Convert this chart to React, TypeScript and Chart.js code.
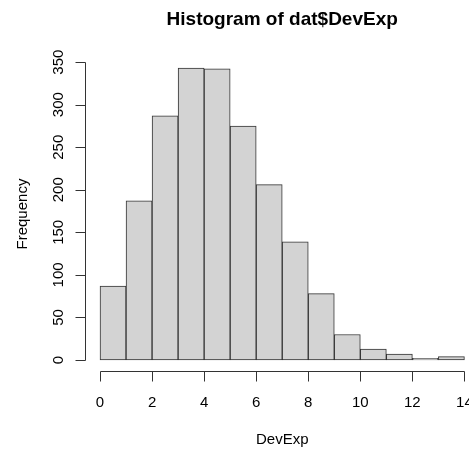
import React, { useEffect, useRef } from "react";
import { Chart, registerables } from "chart.js";

Chart.register(...registerables);

// ---- data ----
const binStarts = [0, 1, 2, 3, 4, 5, 6, 7, 8, 9, 10, 11, 12, 13];
const counts = [87, 187, 287, 343, 342, 275, 206, 139, 78, 30, 13, 7, 2, 4];
const xTicks = [0, 2, 4, 6, 8, 10, 12, 14];
const yTicks = [0, 50, 100, 150, 200, 250, 300, 350];
const titleText = "Histogram of dat$DevExp";
const xLabel = "DevExp";
const yLabel = "Frequency";

const FONT = "'Liberation Sans', Arial, Helvetica, sans-serif";

const rAxesPlugin = {
  id: "rAxes",
  afterDraw(chart: any) {
    const { ctx, chartArea, scales } = chart;
    const xs = scales.x;
    const ys = scales.y;
    ctx.save();
    ctx.strokeStyle = "#333";
    ctx.fillStyle = "#000";
    ctx.lineWidth = 1;

    // y axis
    const ax = Math.round(chartArea.left) + 0.5;
    const y0 = ys.getPixelForValue(yTicks[0]);
    const y1 = ys.getPixelForValue(yTicks[yTicks.length - 1]);
    ctx.beginPath();
    ctx.moveTo(ax, Math.round(y0) + 0.5);
    ctx.lineTo(ax, Math.round(y1) + 0.5);
    yTicks.forEach((v) => {
      const py = Math.round(ys.getPixelForValue(v)) + 0.5;
      ctx.moveTo(ax, py);
      ctx.lineTo(ax - 10, py);
    });
    ctx.stroke();
    ctx.font = `15px ${FONT}`;
    ctx.textAlign = "center";
    ctx.textBaseline = "alphabetic";
    yTicks.forEach((v) => {
      const py = ys.getPixelForValue(v);
      ctx.save();
      ctx.translate(63, py);
      ctx.rotate(-Math.PI / 2);
      ctx.fillText(String(v), 0, 0);
      ctx.restore();
    });

    // x axis
    const ay = Math.round(chartArea.bottom) - 0.5;
    const x0 = xs.getPixelForValue(xTicks[0]);
    const x1 = xs.getPixelForValue(xTicks[xTicks.length - 1]);
    ctx.beginPath();
    ctx.moveTo(Math.round(x0) + 0.5, ay);
    ctx.lineTo(Math.round(x1) + 0.5, ay);
    xTicks.forEach((v) => {
      const px = Math.round(xs.getPixelForValue(v)) + 0.5;
      ctx.moveTo(px, ay);
      ctx.lineTo(px, ay + 10);
    });
    ctx.stroke();
    xTicks.forEach((v) => {
      ctx.fillText(String(v), xs.getPixelForValue(v), 407);
    });

    const cx = (chartArea.left + chartArea.right) / 2;
    const cy = (chartArea.top + chartArea.bottom) / 2;

    // title
    ctx.font = `bold 19px ${FONT}`;
    ctx.fillText(titleText, cx, 25);

    // axis titles
    ctx.font = `15px ${FONT}`;
    ctx.fillText(xLabel, cx, 444);
    ctx.save();
    ctx.translate(27, cy);
    ctx.rotate(-Math.PI / 2);
    ctx.fillText(yLabel, 0, 0);
    ctx.restore();

    ctx.restore();
  },
};

export default function App() {
  const ref = useRef<HTMLCanvasElement | null>(null);

  useEffect(() => {
    if (!ref.current) return;
    const ymax = Math.max(...counts);
    const xmin = binStarts[0];
    const xmax = binStarts[binStarts.length - 1] + 1;
    const xpad = (xmax - xmin) * 0.04;
    const ypad = ymax * 0.04;
    const chart = new Chart(ref.current, {
      type: "bar",
      data: {
        datasets: [
          {
            data: binStarts.map((s, i) => ({ x: s + 0.5, y: counts[i] })),
            backgroundColor: "#D3D3D3",
            borderColor: "#333",
            borderWidth: 1,
            borderSkipped: false,
            barPercentage: 1,
            categoryPercentage: 1,
          },
        ],
      },
      options: {
        responsive: false,
        animation: false,
        layout: { padding: { left: 85.44, right: 0, top: 56.4, bottom: 78.3 } },
        plugins: {
          legend: { display: false },
          tooltip: { enabled: false },
          title: { display: false },
        },
        scales: {
          x: {
            type: "linear",
            min: xmin - xpad,
            max: xmax + xpad,
            offset: false,
            display: false,
          },
          y: { type: "linear", min: -ypad, max: ymax + ypad, display: false },
        },
      },
      plugins: [rAxesPlugin],
    });
    return () => chart.destroy();
  }, []);

  return (
    <div
      style={{
        position: "fixed",
        left: 0,
        top: 0,
        width: 469,
        height: 450,
        overflow: "hidden",
        background: "#fff",
      }}
    >
      <canvas ref={ref} width={479} height={450} style={{ display: "block" }} />
    </div>
  );
}
